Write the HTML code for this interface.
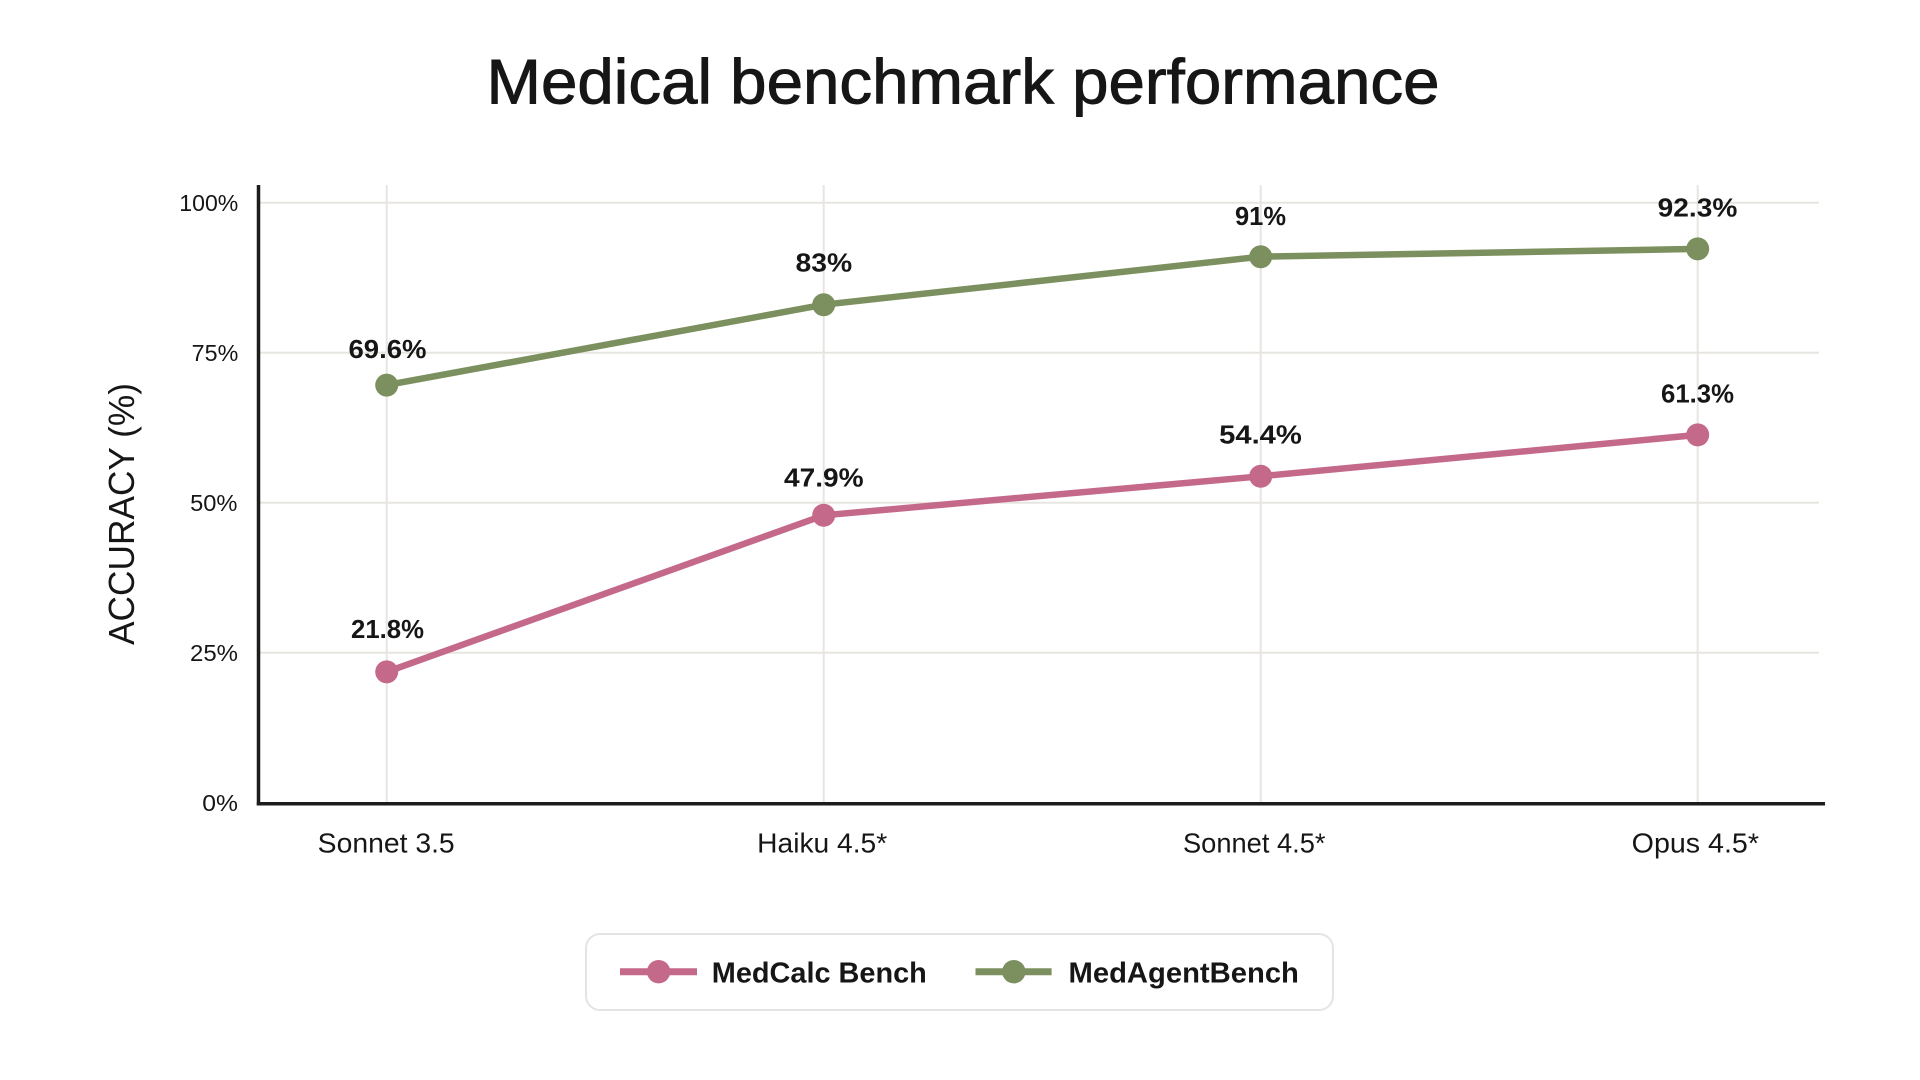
<!DOCTYPE html>
<html>
<head>
<meta charset="utf-8">
<style>
  html, body { margin: 0; padding: 0; background: #ffffff; }
  svg { display: block; }
  text { font-family: "Liberation Sans", sans-serif; fill: #161616; }
</style>
</head>
<body>
<svg width="1920" height="1080" viewBox="0 0 1920 1080" xmlns="http://www.w3.org/2000/svg">
  <rect x="0" y="0" width="1920" height="1080" fill="#ffffff"/>

  <!-- Title -->
  <text x="963" y="103.5" font-size="63" text-anchor="middle" textLength="953" lengthAdjust="spacingAndGlyphs" stroke="#161616" stroke-width="0.9">Medical benchmark performance</text>

  <!-- Gridlines horizontal -->
  <g stroke="#e7e5e0" stroke-width="2">
    <line x1="260" y1="202.7" x2="1819" y2="202.7"/>
    <line x1="260" y1="352.7" x2="1819" y2="352.7"/>
    <line x1="260" y1="502.7" x2="1819" y2="502.7"/>
    <line x1="260" y1="652.7" x2="1819" y2="652.7"/>
    <!-- vertical -->
    <line x1="386.7" y1="185" x2="386.7" y2="803"/>
    <line x1="823.7" y1="185" x2="823.7" y2="803"/>
    <line x1="1260.7" y1="185" x2="1260.7" y2="803"/>
    <line x1="1697.7" y1="185" x2="1697.7" y2="803"/>
  </g>

  <!-- Axes -->
  <line x1="258.5" y1="185" x2="258.5" y2="805.5" stroke="#1c1c1c" stroke-width="3.5"/>
  <line x1="256.8" y1="803.8" x2="1825" y2="803.8" stroke="#1c1c1c" stroke-width="3.5"/>

  <!-- Y tick labels -->
  <g font-size="23" text-anchor="end">
    <text x="238.3" y="211" textLength="59" lengthAdjust="spacingAndGlyphs">100%</text>
    <text x="238.3" y="361" textLength="46.6" lengthAdjust="spacingAndGlyphs">75%</text>
    <text x="237.5" y="511" textLength="47.4" lengthAdjust="spacingAndGlyphs">50%</text>
    <text x="238" y="661" textLength="48" lengthAdjust="spacingAndGlyphs">25%</text>
    <text x="238" y="811" textLength="35.7" lengthAdjust="spacingAndGlyphs">0%</text>
  </g>

  <!-- Y axis title -->
  <text transform="translate(134,514) rotate(-90)" font-size="36" text-anchor="middle" textLength="262" lengthAdjust="spacingAndGlyphs" fill="#1a1a1a">ACCURACY (%)</text>

  <!-- X labels -->
  <g font-size="28">
    <text x="317.7" y="852.7" textLength="137" lengthAdjust="spacingAndGlyphs">Sonnet 3.5</text>
    <text x="757.2" y="852.7" textLength="130" lengthAdjust="spacingAndGlyphs">Haiku 4.5*</text>
    <text x="1183" y="852.7" textLength="142.5" lengthAdjust="spacingAndGlyphs">Sonnet 4.5*</text>
    <text x="1631.7" y="852.7" textLength="127.3" lengthAdjust="spacingAndGlyphs">Opus 4.5*</text>
  </g>

  <!-- MedAgentBench series (green) -->
  <polyline points="386.7,385.1 823.7,304.7 1260.7,256.7 1697.7,248.9" fill="none" stroke="#7b905e" stroke-width="6.5" stroke-linejoin="round"/>
  <g fill="#7b905e">
    <circle cx="386.7" cy="385.1" r="11.5"/>
    <circle cx="823.7" cy="304.7" r="11.5"/>
    <circle cx="1260.7" cy="256.7" r="11.5"/>
    <circle cx="1697.7" cy="248.9" r="11.5"/>
  </g>

  <!-- MedCalc Bench series (pink) -->
  <polyline points="386.7,671.9 823.7,515.3 1260.7,476.3 1697.7,434.9" fill="none" stroke="#c4698a" stroke-width="6.5" stroke-linejoin="round"/>
  <g fill="#c4698a">
    <circle cx="386.7" cy="671.9" r="11.5"/>
    <circle cx="823.7" cy="515.3" r="11.5"/>
    <circle cx="1260.7" cy="476.3" r="11.5"/>
    <circle cx="1697.7" cy="434.9" r="11.5"/>
  </g>

  <!-- Data labels -->
  <g font-size="26" font-weight="bold" text-anchor="middle">
    <text x="387.5" y="358" textLength="78" lengthAdjust="spacingAndGlyphs">69.6%</text>
    <text x="823.8" y="271.7" textLength="56.6" lengthAdjust="spacingAndGlyphs">83%</text>
    <text x="1260.5" y="225" textLength="51" lengthAdjust="spacingAndGlyphs">91%</text>
    <text x="1697.5" y="216.7" textLength="79.6" lengthAdjust="spacingAndGlyphs">92.3%</text>
    <text x="387.5" y="638" textLength="73" lengthAdjust="spacingAndGlyphs">21.8%</text>
    <text x="823.8" y="486.7" textLength="79.6" lengthAdjust="spacingAndGlyphs">47.9%</text>
    <text x="1260.5" y="443.3" textLength="82.7" lengthAdjust="spacingAndGlyphs">54.4%</text>
    <text x="1697.5" y="402.3" textLength="73" lengthAdjust="spacingAndGlyphs">61.3%</text>
  </g>

  <!-- Legend -->
  <rect x="586" y="934" width="747" height="76" rx="14" ry="14" fill="#ffffff" stroke="#e4e4e4" stroke-width="2"/>
  <line x1="620" y1="971.7" x2="697" y2="971.7" stroke="#c4698a" stroke-width="7"/>
  <circle cx="658.6" cy="971.7" r="11.7" fill="#c4698a"/>
  <text x="711.8" y="982.3" font-size="28.5" font-weight="bold" textLength="215" lengthAdjust="spacingAndGlyphs">MedCalc Bench</text>
  <line x1="975.5" y1="971.7" x2="1051.6" y2="971.7" stroke="#7b905e" stroke-width="7"/>
  <circle cx="1013.8" cy="971.7" r="11.7" fill="#7b905e"/>
  <text x="1068.5" y="982.3" font-size="28.5" font-weight="bold" textLength="230.4" lengthAdjust="spacingAndGlyphs">MedAgentBench</text>
</svg>
</body>
</html>
